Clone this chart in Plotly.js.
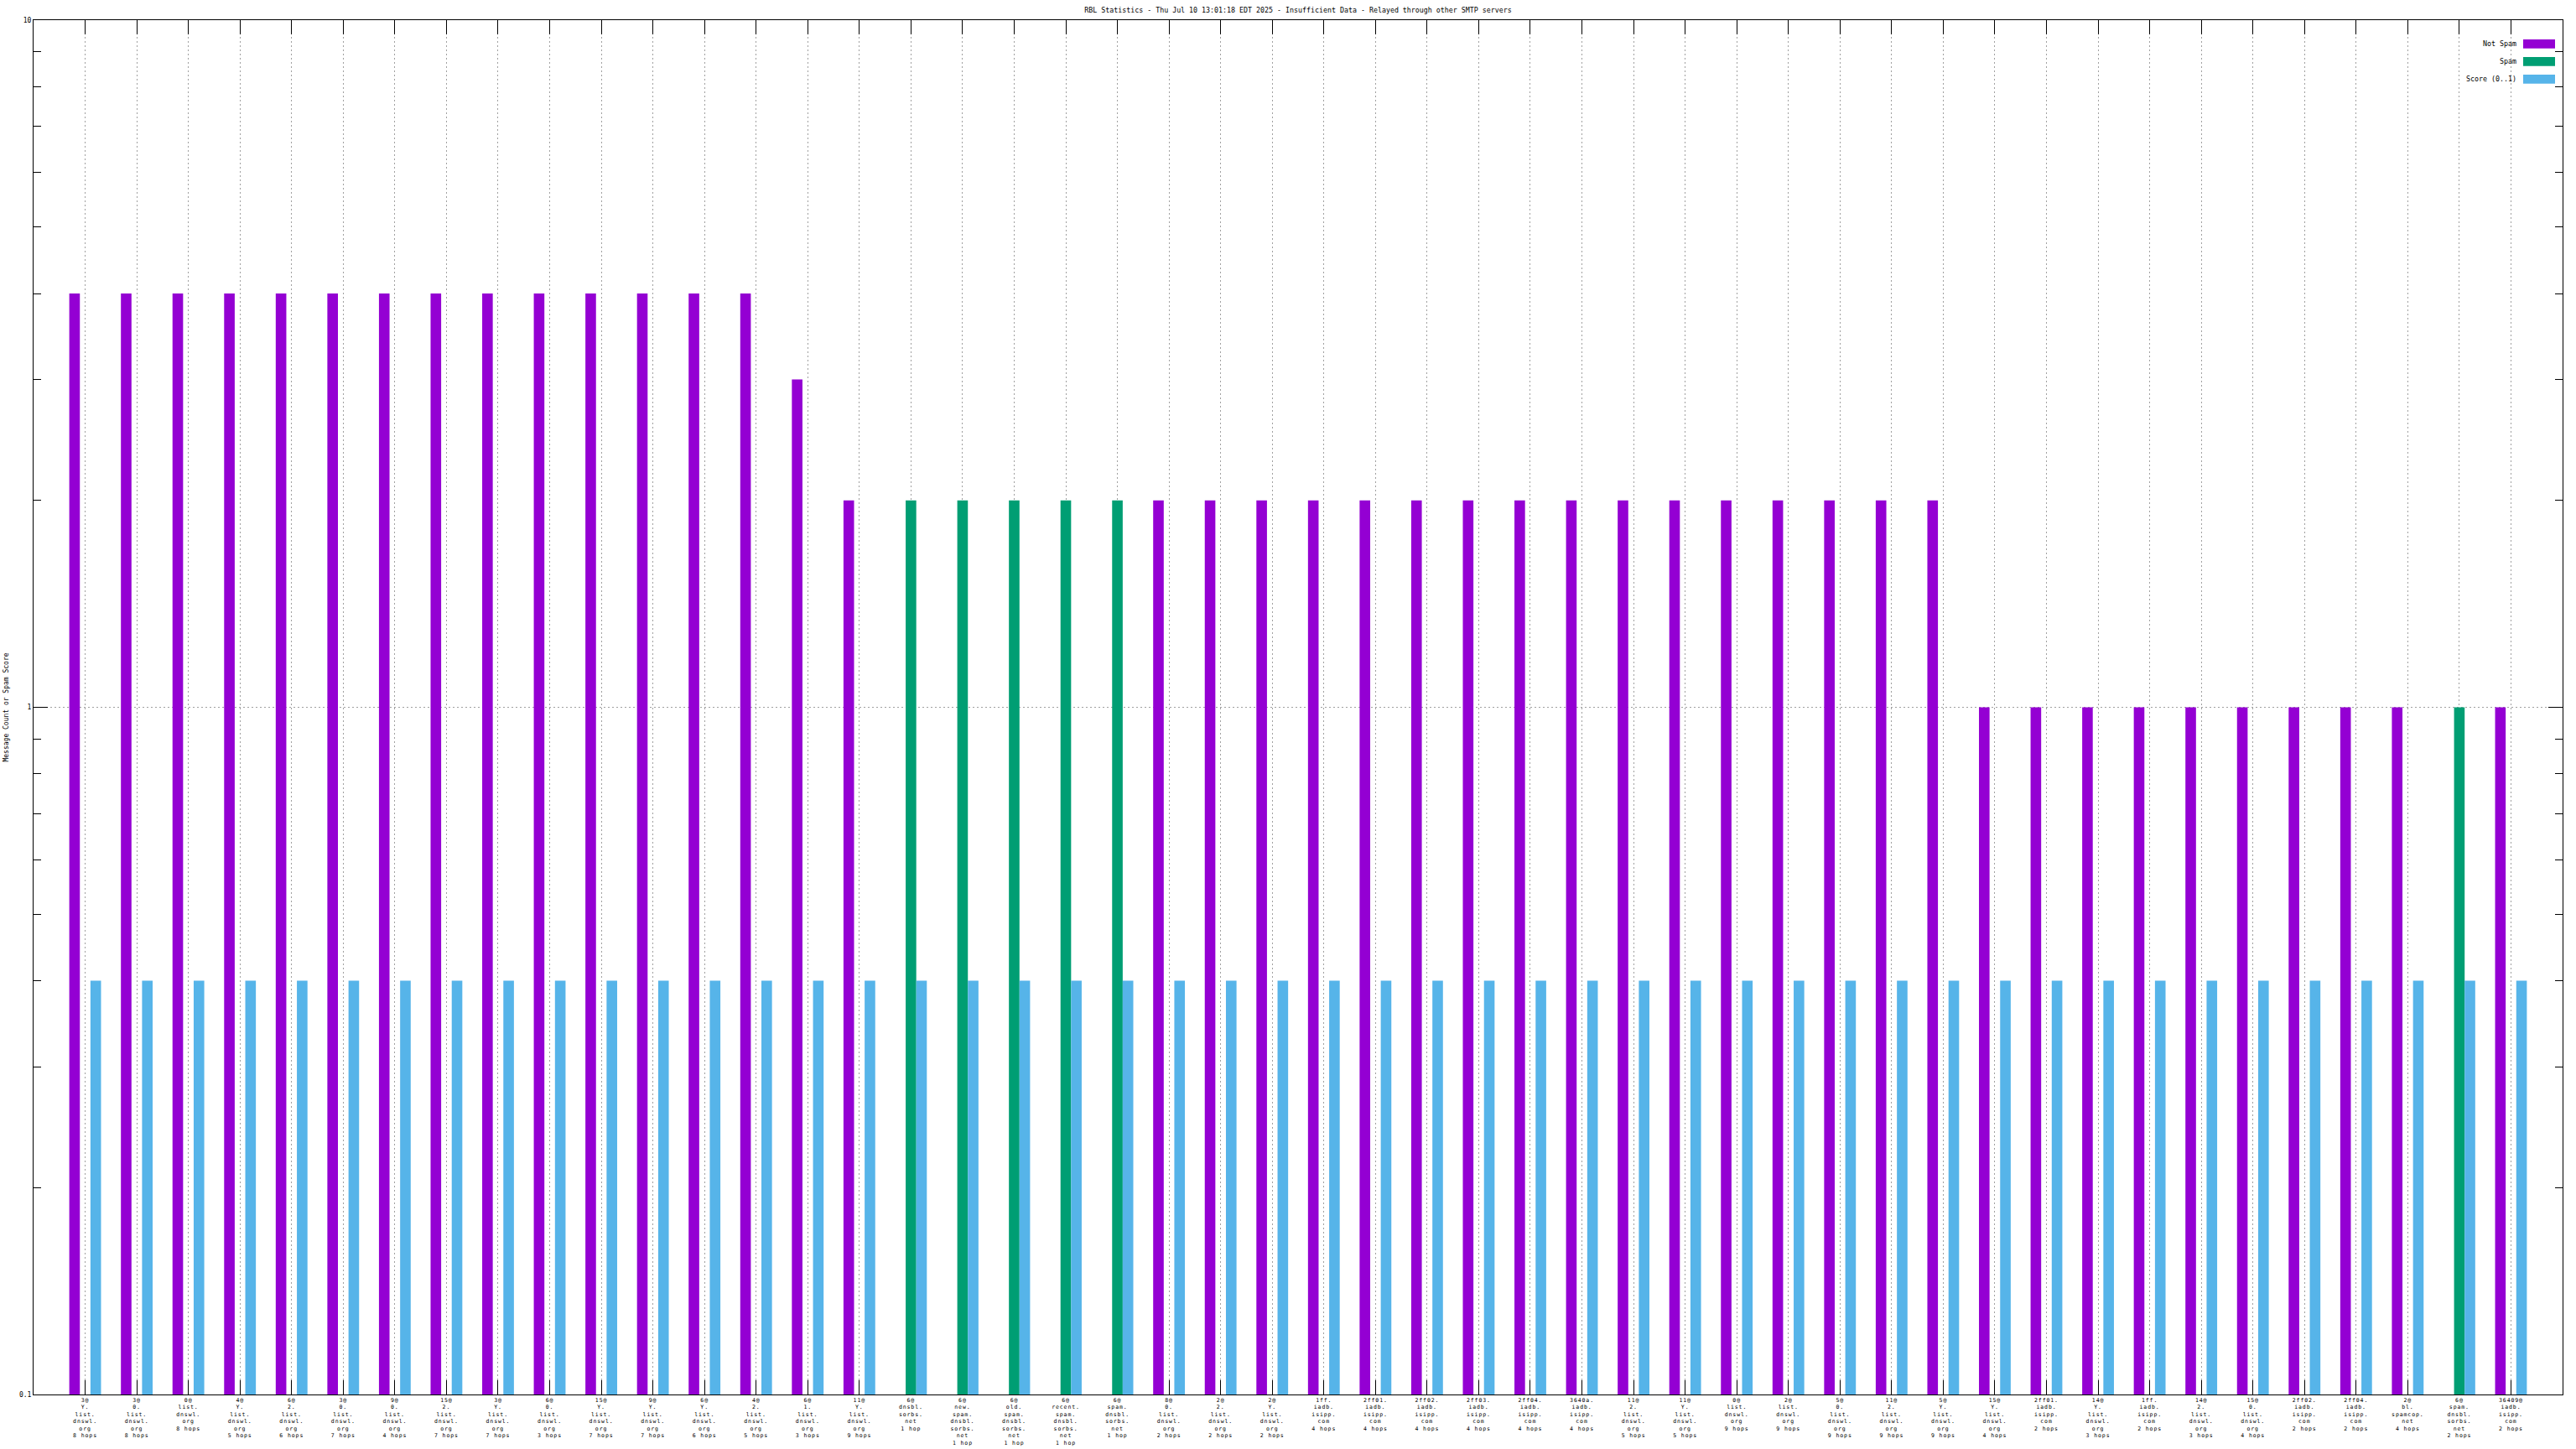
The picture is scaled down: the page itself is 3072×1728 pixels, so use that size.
<!DOCTYPE html>
<html><head><meta charset="utf-8">
<script src="https://cdn.plot.ly/plotly-3.0.1.min.js"></script>
<style>
html,body{margin:0;padding:0;background:#fff}
#chart{width:3072px;height:1728px}
#chart .xtick text{letter-spacing:0.9px}
</style>
</head><body><div id="chart"></div>
<script>
const chartTitle = "RBL Statistics - Thu Jul 10 13:01:18 EDT 2025 - Insufficient Data - Relayed through other SMTP servers";
const yTitle = "Message Count or Spam Score";

const categories = [
  "3@<br>Y.<br>list.<br>dnswl.<br>org<br>8 hops",
  "3@<br>0.<br>list.<br>dnswl.<br>org<br>8 hops",
  "0@<br>list.<br>dnswl.<br>org<br>8 hops",
  "4@<br>Y.<br>list.<br>dnswl.<br>org<br>5 hops",
  "6@<br>2.<br>list.<br>dnswl.<br>org<br>6 hops",
  "3@<br>0.<br>list.<br>dnswl.<br>org<br>7 hops",
  "9@<br>0.<br>list.<br>dnswl.<br>org<br>4 hops",
  "15@<br>2.<br>list.<br>dnswl.<br>org<br>7 hops",
  "3@<br>Y.<br>list.<br>dnswl.<br>org<br>7 hops",
  "6@<br>0.<br>list.<br>dnswl.<br>org<br>3 hops",
  "15@<br>Y.<br>list.<br>dnswl.<br>org<br>7 hops",
  "9@<br>Y.<br>list.<br>dnswl.<br>org<br>7 hops",
  "6@<br>Y.<br>list.<br>dnswl.<br>org<br>6 hops",
  "4@<br>2.<br>list.<br>dnswl.<br>org<br>5 hops",
  "6@<br>1.<br>list.<br>dnswl.<br>org<br>3 hops",
  "11@<br>Y.<br>list.<br>dnswl.<br>org<br>9 hops",
  "6@<br>dnsbl.<br>sorbs.<br>net<br>1 hop",
  "6@<br>new.<br>spam.<br>dnsbl.<br>sorbs.<br>net<br>1 hop",
  "6@<br>old.<br>spam.<br>dnsbl.<br>sorbs.<br>net<br>1 hop",
  "6@<br>recent.<br>spam.<br>dnsbl.<br>sorbs.<br>net<br>1 hop",
  "6@<br>spam.<br>dnsbl.<br>sorbs.<br>net<br>1 hop",
  "8@<br>0.<br>list.<br>dnswl.<br>org<br>2 hops",
  "2@<br>2.<br>list.<br>dnswl.<br>org<br>2 hops",
  "2@<br>Y.<br>list.<br>dnswl.<br>org<br>2 hops",
  "1ff.<br>iadb.<br>isipp.<br>com<br>4 hops",
  "2ff01.<br>iadb.<br>isipp.<br>com<br>4 hops",
  "2ff02.<br>iadb.<br>isipp.<br>com<br>4 hops",
  "2ff03.<br>iadb.<br>isipp.<br>com<br>4 hops",
  "2ff04.<br>iadb.<br>isipp.<br>com<br>4 hops",
  "3640a.<br>iadb.<br>isipp.<br>com<br>4 hops",
  "11@<br>2.<br>list.<br>dnswl.<br>org<br>5 hops",
  "11@<br>Y.<br>list.<br>dnswl.<br>org<br>5 hops",
  "0@<br>list.<br>dnswl.<br>org<br>9 hops",
  "2@<br>list.<br>dnswl.<br>org<br>9 hops",
  "5@<br>0.<br>list.<br>dnswl.<br>org<br>9 hops",
  "11@<br>2.<br>list.<br>dnswl.<br>org<br>9 hops",
  "5@<br>Y.<br>list.<br>dnswl.<br>org<br>9 hops",
  "15@<br>Y.<br>list.<br>dnswl.<br>org<br>4 hops",
  "2ff01.<br>iadb.<br>isipp.<br>com<br>2 hops",
  "14@<br>Y.<br>list.<br>dnswl.<br>org<br>3 hops",
  "1ff.<br>iadb.<br>isipp.<br>com<br>2 hops",
  "14@<br>2.<br>list.<br>dnswl.<br>org<br>3 hops",
  "15@<br>0.<br>list.<br>dnswl.<br>org<br>4 hops",
  "2ff02.<br>iadb.<br>isipp.<br>com<br>2 hops",
  "2ff04.<br>iadb.<br>isipp.<br>com<br>2 hops",
  "2@<br>bl.<br>spamcop.<br>net<br>4 hops",
  "6@<br>spam.<br>dnsbl.<br>sorbs.<br>net<br>2 hops",
  "36409@<br>iadb.<br>isipp.<br>com<br>2 hops"
];

const notSpam = [4,4,4,4,4,4,4,4,4,4,4,4,4,4,3,2,null,null,null,null,null,2,2,2,2,2,2,2,2,2,2,2,2,2,2,2,2,1,1,1,1,1,1,1,1,1,null,1];
const spam    = [null,null,null,null,null,null,null,null,null,null,null,null,null,null,null,null,2,2,2,2,2,null,null,null,null,null,null,null,null,null,null,null,null,null,null,null,null,null,null,null,null,null,null,null,null,null,1,null];
const score   = [0.4,0.4,0.4,0.4,0.4,0.4,0.4,0.4,0.4,0.4,0.4,0.4,0.4,0.4,0.4,0.4,0.4,0.4,0.4,0.4,0.4,0.4,0.4,0.4,0.4,0.4,0.4,0.4,0.4,0.4,0.4,0.4,0.4,0.4,0.4,0.4,0.4,0.4,0.4,0.4,0.4,0.4,0.4,0.4,0.4,0.4,0.4,0.4];

const seriesNames = ["Not Spam", "Spam", "Score (0..1)"];
const seriesColors = ["#9400d3", "#009e73", "#56b4e9"];
const seriesValues = [notSpam, spam, score];

const yMajorTicks = [0.1, 1, 10];
const yMajorLabels = ["0.1", "1", "10"];
const yMinorTicks = [0.2,0.3,0.4,0.5,0.6,0.7,0.8,0.9,2,3,4,5,6,7,8,9];

// ---- layout geometry ----
const W = 3072, H = 1728;
const M = {l: 40, r: 16, t: 24, b: 65};
const PW = W - M.l - M.r, PH = H - M.t - M.b;
const px2x = px => (px - M.l) / PW;
const px2y = py => 1 - (py - M.t) / PH;
const FONT = "DejaVu Sans Mono, Liberation Mono, monospace";

const traces = seriesNames.map((name, i) => ({
  type: 'bar',
  name: name,
  x: categories,
  y: seriesValues[i],
  marker: {color: seriesColors[i], line: {width: 0}},
  hoverinfo: 'skip'
}));

// gnuplot-style key: text right-aligned, swatch on its right
const keyShapes = [], keyAnn = [];
seriesNames.forEach((name, i) => {
  const cy = 52.3 + i * 21;
  keyShapes.push({type: 'rect', xref: 'paper', yref: 'paper', layer: 'above',
    x0: px2x(3009), x1: px2x(3047), y0: px2y(cy + 5.4), y1: px2y(cy - 5.4),
    fillcolor: seriesColors[i], line: {width: 0}});
  keyAnn.push({xref: 'paper', yref: 'paper', x: px2x(3003), y: px2y(cy),
    xanchor: 'right', yanchor: 'middle', showarrow: false, text: name,
    font: {family: FONT, size: 8.3, color: '#000'}});
});

const gridDash = '2px,3px';
const layout = {
  width: W, height: H,
  margin: {l: M.l, r: M.r, t: M.t, b: M.b, pad: 0},
  paper_bgcolor: '#ffffff', plot_bgcolor: '#ffffff',
  font: {family: FONT, size: 8, color: '#000'},
  title: {text: chartTitle, x: 0.5, xref: 'paper', xanchor: 'center',
    y: 1 - 12 / H, yref: 'container', yanchor: 'middle',
    font: {family: FONT, size: 8.3, color: '#000'}},
  barmode: 'group', bargap: 0.385, bargroupgap: 0,
  showlegend: false,
  hovermode: false,
  xaxis: {
    type: 'category', range: [-1, categories.length],
    showline: true, linecolor: '#000', linewidth: 1, mirror: 'ticks',
    ticks: 'inside', ticklen: 17, tickwidth: 1, tickcolor: '#000',
    showgrid: true, gridcolor: '#a0a0a0', gridwidth: 1, griddash: gridDash,
    layer: 'below traces', tickangle: 0, automargin: false,
    tickfont: {family: FONT, size: 6.5, color: '#000'}
  },
  yaxis: {
    type: 'log', range: [-1, 1],
    tickmode: 'array', tickvals: yMajorTicks, ticktext: yMajorLabels,
    showline: true, linecolor: '#000', linewidth: 1, mirror: 'ticks',
    ticks: 'inside', ticklen: 17, tickwidth: 1, tickcolor: '#000',
    showgrid: true, gridcolor: '#a0a0a0', gridwidth: 1, griddash: gridDash,
    zeroline: false, layer: 'below traces', automargin: false,
    minor: {tickmode: 'array', tickvals: yMinorTicks, ticks: 'inside', ticklen: 9,
      tickwidth: 1, tickcolor: '#000', showgrid: false},
    tickfont: {family: FONT, size: 8, color: '#000'},
    title: {text: yTitle, standoff: 11, font: {family: FONT, size: 8, color: '#000'}}
  },
  shapes: keyShapes,
  annotations: keyAnn
};

Plotly.newPlot('chart', traces, layout, {staticPlot: true, displayModeBar: false});
</script>
</body></html>
